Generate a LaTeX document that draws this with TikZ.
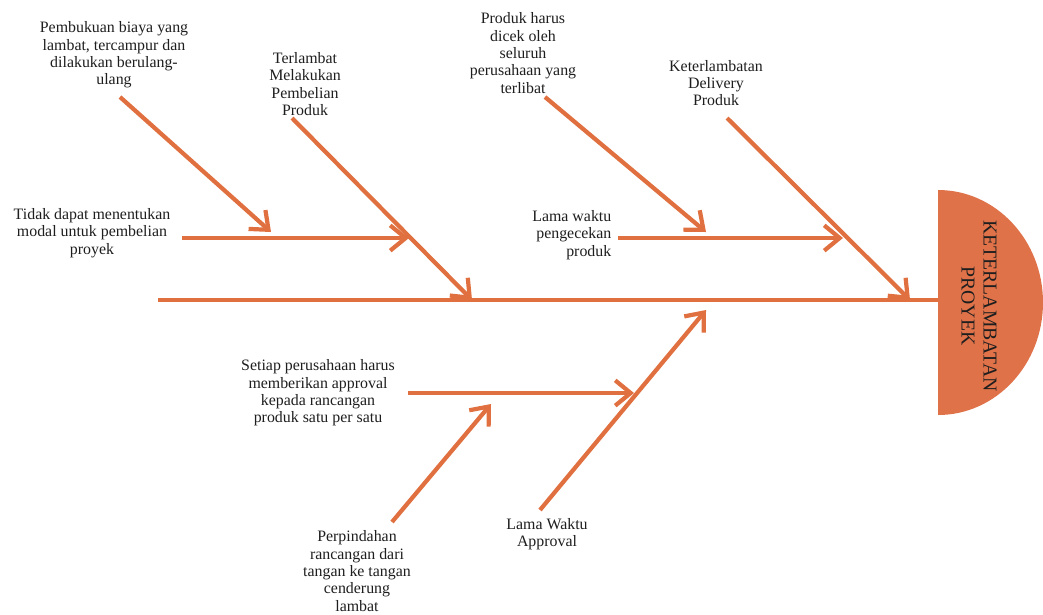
\documentclass[tikz,border=0pt]{standalone}
\usepackage{fontspec}
\setmainfont{Liberation Serif}
\usetikzlibrary{arrows.meta,calc}
\definecolor{bone}{HTML}{E0703F}
\definecolor{headfill}{HTML}{DF7249}
\definecolor{ink}{HTML}{1E1E1E}
\begin{document}
\begin{tikzpicture}[x=0.025cm,y=-0.025cm,>={Straight Barb[length=11pt,width=18pt]},
spine/.style={draw=bone,line width=3.1pt},bonearrow/.style={->,draw=bone,line width=3pt},cause/.style={align=center,text=ink,font=\fontsize{11.3}{12.3}\selectfont,inner sep=1pt},headtext/.style={align=center,text=ink,font=\fontsize{14}{15.6}\selectfont,rotate=-90}]
\useasboundingbox (0,0) rectangle (1043,614);
\begin{scope}
\clip (938,150) rectangle (1043,450);
\fill[headfill] (938,302.5) ellipse[x radius=105,y radius=112.5];
\end{scope}
\node[headtext] (head) at (979,306) {KETERLAMBATAN\\PROYEK};
\coordinate (spinestart) at (158,300);
\coordinate (headbase) at (938,300);
\draw[spine] (spinestart)--(headbase);
\coordinate (beliTail) at (292,118); \coordinate (beliTip) at (472,300);
\coordinate (kirimTail) at (727,118); \coordinate (kirimTip) at (910,300);
\coordinate (approvalTail) at (540,510); \coordinate (approvalTip) at (706,310);
\coordinate (bukuanTail) at (120,97); \coordinate (bukuanTip) at (271,232);
\coordinate (modalTail) at (182,238); \coordinate (modalTip) at (409,238);
\coordinate (cekTail) at (545,97); \coordinate (cekTip) at (706,232);
\coordinate (waktucekTail) at (618,238); \coordinate (waktucekTip) at (843,238);
\coordinate (setiapTail) at (408,393); \coordinate (setiapTip) at (634,393);
\coordinate (pindahTail) at (392,522); \coordinate (pindahTip) at (491,404);
\draw[bonearrow] (beliTail)--(beliTip);
\draw[bonearrow] (kirimTail)--(kirimTip);
\draw[bonearrow] (approvalTail)--(approvalTip);
\draw[bonearrow] (bukuanTail)--(bukuanTip);
\draw[bonearrow] (modalTail)--(modalTip);
\draw[bonearrow] (cekTail)--(cekTip);
\draw[bonearrow] (waktucekTail)--(waktucekTip);
\draw[bonearrow] (setiapTail)--(setiapTip);
\draw[bonearrow] (pindahTail)--(pindahTip);
\node[cause] (bukuan) at (114,55) {Pembukuan biaya yang\\lambat, tercampur dan\\dilakukan berulang-\\ulang};
\node[cause] (beli) at (305,84) {Terlambat\\Melakukan\\Pembelian\\Produk};
\node[cause] (modal) at (92,233) {Tidak dapat menentukan\\modal untuk pembelian\\proyek};
\node[cause] (cek) at (523,53) {Produk harus\\dicek oleh\\seluruh\\perusahaan yang\\terlibat};
\node[cause] (kirim) at (716,83) {Keterlambatan\\Delivery\\Produk};
\node[cause,align=right,anchor=east] (waktucek) at (613,235) {Lama waktu\\pengecekan\\produk};
\node[cause] (setiap) at (318,393) {Setiap perusahaan harus\\memberikan approval\\kepada rancangan\\produk satu per satu};
\node[cause] (approval) at (547,534) {Lama Waktu\\Approval};
\node[cause] (pindah) at (357,571) {Perpindahan\\rancangan dari\\tangan ke tangan\\cenderung\\lambat};
\end{tikzpicture}
\end{document}
